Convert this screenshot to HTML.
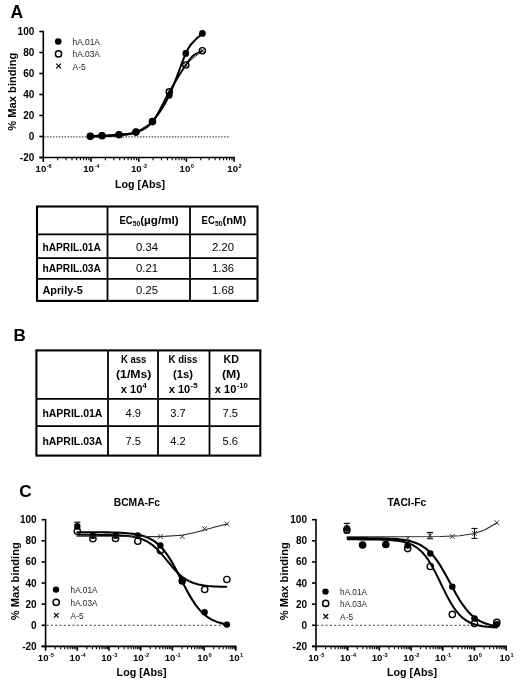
<!DOCTYPE html>
<html lang="en"><head><meta charset="utf-8"><title>Figure</title>
<style>html,body{margin:0;padding:0;background:#fff}svg{display:block;will-change:transform}text{font-family:'Liberation Sans', Arial, sans-serif}</style></head><body>
<svg width="520" height="684" viewBox="0 0 520 684" font-family='"Liberation Sans", Arial, sans-serif'>
<rect width="520" height="684" fill="#fff"/>
<text x="10.60" y="17.90" font-size="17.5" font-weight="bold" text-anchor="start" fill="#000" >A</text>
<text x="13.40" y="340.60" font-size="17" font-weight="bold" text-anchor="start" fill="#000" >B</text>
<text x="19.20" y="497.40" font-size="17.2" font-weight="bold" text-anchor="start" fill="#000" >C</text>
<line x1="43.30" y1="30.80" x2="43.30" y2="158.20" stroke="#000" stroke-width="1.6" />
<line x1="39.30" y1="157.50" x2="234.80" y2="157.50" stroke="#000" stroke-width="1.6" />
<line x1="39.30" y1="31.50" x2="43.30" y2="31.50" stroke="#000" stroke-width="1.6" />
<text x="34.30" y="35.05" font-size="10" font-weight="bold" text-anchor="end" fill="#000" >100</text>
<line x1="39.30" y1="52.50" x2="43.30" y2="52.50" stroke="#000" stroke-width="1.6" />
<text x="34.30" y="56.05" font-size="10" font-weight="bold" text-anchor="end" fill="#000" >80</text>
<line x1="39.30" y1="73.50" x2="43.30" y2="73.50" stroke="#000" stroke-width="1.6" />
<text x="34.30" y="77.05" font-size="10" font-weight="bold" text-anchor="end" fill="#000" >60</text>
<line x1="39.30" y1="94.50" x2="43.30" y2="94.50" stroke="#000" stroke-width="1.6" />
<text x="34.30" y="98.05" font-size="10" font-weight="bold" text-anchor="end" fill="#000" >40</text>
<line x1="39.30" y1="115.50" x2="43.30" y2="115.50" stroke="#000" stroke-width="1.6" />
<text x="34.30" y="119.05" font-size="10" font-weight="bold" text-anchor="end" fill="#000" >20</text>
<line x1="39.30" y1="136.50" x2="43.30" y2="136.50" stroke="#000" stroke-width="1.6" />
<text x="34.30" y="140.05" font-size="10" font-weight="bold" text-anchor="end" fill="#000" >0</text>
<line x1="39.30" y1="157.50" x2="43.30" y2="157.50" stroke="#000" stroke-width="1.6" />
<text x="34.30" y="161.05" font-size="10" font-weight="bold" text-anchor="end" fill="#000" >-20</text>
<line x1="43.30" y1="157.50" x2="43.30" y2="161.80" stroke="#000" stroke-width="1.6" />
<text x="35.55" y="171.80" font-size="9.6" font-weight="bold">10</text>
<text x="46.65" y="167.90" font-size="5.6" font-weight="bold">-6</text>
<line x1="57.66" y1="157.50" x2="57.66" y2="160.30" stroke="#000" stroke-width="1.1" />
<line x1="66.06" y1="157.50" x2="66.06" y2="160.30" stroke="#000" stroke-width="1.1" />
<line x1="72.02" y1="157.50" x2="72.02" y2="160.30" stroke="#000" stroke-width="1.1" />
<line x1="76.64" y1="157.50" x2="76.64" y2="160.30" stroke="#000" stroke-width="1.1" />
<line x1="80.42" y1="157.50" x2="80.42" y2="160.30" stroke="#000" stroke-width="1.1" />
<line x1="83.61" y1="157.50" x2="83.61" y2="160.30" stroke="#000" stroke-width="1.1" />
<line x1="86.38" y1="157.50" x2="86.38" y2="160.30" stroke="#000" stroke-width="1.1" />
<line x1="88.82" y1="157.50" x2="88.82" y2="160.30" stroke="#000" stroke-width="1.1" />
<line x1="91.00" y1="157.50" x2="91.00" y2="161.80" stroke="#000" stroke-width="1.6" />
<text x="83.25" y="171.80" font-size="9.6" font-weight="bold">10</text>
<text x="94.35" y="167.90" font-size="5.6" font-weight="bold">-4</text>
<line x1="105.36" y1="157.50" x2="105.36" y2="160.30" stroke="#000" stroke-width="1.1" />
<line x1="113.76" y1="157.50" x2="113.76" y2="160.30" stroke="#000" stroke-width="1.1" />
<line x1="119.72" y1="157.50" x2="119.72" y2="160.30" stroke="#000" stroke-width="1.1" />
<line x1="124.34" y1="157.50" x2="124.34" y2="160.30" stroke="#000" stroke-width="1.1" />
<line x1="128.12" y1="157.50" x2="128.12" y2="160.30" stroke="#000" stroke-width="1.1" />
<line x1="131.31" y1="157.50" x2="131.31" y2="160.30" stroke="#000" stroke-width="1.1" />
<line x1="134.08" y1="157.50" x2="134.08" y2="160.30" stroke="#000" stroke-width="1.1" />
<line x1="136.52" y1="157.50" x2="136.52" y2="160.30" stroke="#000" stroke-width="1.1" />
<line x1="138.70" y1="157.50" x2="138.70" y2="161.80" stroke="#000" stroke-width="1.6" />
<text x="130.95" y="171.80" font-size="9.6" font-weight="bold">10</text>
<text x="142.05" y="167.90" font-size="5.6" font-weight="bold">-2</text>
<line x1="153.06" y1="157.50" x2="153.06" y2="160.30" stroke="#000" stroke-width="1.1" />
<line x1="161.46" y1="157.50" x2="161.46" y2="160.30" stroke="#000" stroke-width="1.1" />
<line x1="167.42" y1="157.50" x2="167.42" y2="160.30" stroke="#000" stroke-width="1.1" />
<line x1="172.04" y1="157.50" x2="172.04" y2="160.30" stroke="#000" stroke-width="1.1" />
<line x1="175.82" y1="157.50" x2="175.82" y2="160.30" stroke="#000" stroke-width="1.1" />
<line x1="179.01" y1="157.50" x2="179.01" y2="160.30" stroke="#000" stroke-width="1.1" />
<line x1="181.78" y1="157.50" x2="181.78" y2="160.30" stroke="#000" stroke-width="1.1" />
<line x1="184.22" y1="157.50" x2="184.22" y2="160.30" stroke="#000" stroke-width="1.1" />
<line x1="186.40" y1="157.50" x2="186.40" y2="161.80" stroke="#000" stroke-width="1.6" />
<text x="179.60" y="171.80" font-size="9.6" font-weight="bold">10</text>
<text x="190.70" y="167.90" font-size="5.6" font-weight="bold">0</text>
<line x1="200.76" y1="157.50" x2="200.76" y2="160.30" stroke="#000" stroke-width="1.1" />
<line x1="209.16" y1="157.50" x2="209.16" y2="160.30" stroke="#000" stroke-width="1.1" />
<line x1="215.12" y1="157.50" x2="215.12" y2="160.30" stroke="#000" stroke-width="1.1" />
<line x1="219.74" y1="157.50" x2="219.74" y2="160.30" stroke="#000" stroke-width="1.1" />
<line x1="223.52" y1="157.50" x2="223.52" y2="160.30" stroke="#000" stroke-width="1.1" />
<line x1="226.71" y1="157.50" x2="226.71" y2="160.30" stroke="#000" stroke-width="1.1" />
<line x1="229.48" y1="157.50" x2="229.48" y2="160.30" stroke="#000" stroke-width="1.1" />
<line x1="231.92" y1="157.50" x2="231.92" y2="160.30" stroke="#000" stroke-width="1.1" />
<line x1="234.10" y1="157.50" x2="234.10" y2="161.80" stroke="#000" stroke-width="1.6" />
<text x="227.30" y="171.80" font-size="9.6" font-weight="bold">10</text>
<text x="238.40" y="167.90" font-size="5.6" font-weight="bold">2</text>
<line x1="44.30" y1="136.85" x2="229.80" y2="136.85" stroke="#444" stroke-width="1.4" stroke-dasharray="1.4 1.5"/>
<text transform="translate(16.4,91.7) rotate(-90)" font-size="10.9" font-weight="bold" text-anchor="middle" textLength="78" lengthAdjust="spacingAndGlyphs">% Max binding</text>
<text x="140.00" y="187.60" font-size="10.7" font-weight="bold" text-anchor="middle" fill="#000" textLength="50.00" lengthAdjust="spacingAndGlyphs" >Log [Abs]</text>
<circle cx="90.30" cy="136.00" r="3.35" fill="#000"/>
<circle cx="102.00" cy="135.60" r="3.35" fill="#000"/>
<circle cx="119.00" cy="134.60" r="3.35" fill="#000"/>
<circle cx="136.00" cy="131.90" r="3.35" fill="#000"/>
<circle cx="152.50" cy="121.30" r="3.35" fill="#000"/>
<circle cx="169.30" cy="95.30" r="3.35" fill="#000"/>
<circle cx="185.80" cy="53.40" r="3.35" fill="#000"/>
<circle cx="202.40" cy="33.40" r="3.35" fill="#000"/>
<path d="M90.30,136.00 C92.25,135.93 97.22,135.83 102.00,135.60 C106.78,135.37 113.33,135.22 119.00,134.60 C124.67,133.98 130.42,134.12 136.00,131.90 C141.58,129.68 146.95,127.40 152.50,121.30 C158.05,115.20 163.75,106.62 169.30,95.30 C174.85,83.98 181.75,62.35 185.80,53.40 C189.85,44.45 190.83,44.93 193.60,41.60 C196.37,38.27 200.93,34.77 202.40,33.40" fill="none" stroke="#000" stroke-width="2.0" stroke-linecap="round"/>
<circle cx="90.30" cy="136.20" r="3.1" fill="none" stroke="#000" stroke-width="1.4"/>
<circle cx="102.00" cy="135.80" r="3.1" fill="none" stroke="#000" stroke-width="1.4"/>
<circle cx="119.00" cy="134.80" r="3.1" fill="none" stroke="#000" stroke-width="1.4"/>
<circle cx="136.00" cy="132.10" r="3.1" fill="none" stroke="#000" stroke-width="1.4"/>
<circle cx="152.50" cy="121.60" r="3.1" fill="none" stroke="#000" stroke-width="1.4"/>
<circle cx="169.30" cy="91.80" r="3.1" fill="none" stroke="#000" stroke-width="1.4"/>
<circle cx="185.80" cy="65.00" r="3.1" fill="none" stroke="#000" stroke-width="1.4"/>
<circle cx="202.40" cy="50.70" r="3.1" fill="none" stroke="#000" stroke-width="1.4"/>
<path d="M90.30,136.50 C92.25,136.43 97.22,136.33 102.00,136.10 C106.78,135.87 113.33,135.72 119.00,135.10 C124.67,134.48 130.42,134.60 136.00,132.40 C141.58,130.20 146.95,128.67 152.50,121.90 C158.05,115.13 163.75,101.28 169.30,91.80 C174.85,82.32 181.80,71.05 185.80,65.00 C189.80,58.95 190.53,57.88 193.30,55.50 C196.07,53.12 200.88,51.50 202.40,50.70" fill="none" stroke="#000" stroke-width="1.8" stroke-linecap="round"/>
<line x1="167.30" y1="89.80" x2="171.30" y2="93.80" stroke="#000" stroke-width="0.8" />
<line x1="167.30" y1="93.80" x2="171.30" y2="89.80" stroke="#000" stroke-width="0.8" />
<line x1="183.80" y1="63.00" x2="187.80" y2="67.00" stroke="#000" stroke-width="0.8" />
<line x1="183.80" y1="67.00" x2="187.80" y2="63.00" stroke="#000" stroke-width="0.8" />
<line x1="200.40" y1="48.70" x2="204.40" y2="52.70" stroke="#000" stroke-width="0.8" />
<line x1="200.40" y1="52.70" x2="204.40" y2="48.70" stroke="#000" stroke-width="0.8" />
<path d="M90.30,137.10 C92.25,137.03 97.22,136.93 102.00,136.70 C106.78,136.47 113.33,136.32 119.00,135.70 C124.67,135.08 130.42,135.20 136.00,133.00 C141.58,130.80 146.95,129.30 152.50,122.50 C158.05,115.70 163.75,101.72 169.30,92.20 C174.85,82.68 180.28,72.25 185.80,65.40 C191.32,58.55 199.63,53.48 202.40,51.10" fill="none" stroke="#000" stroke-width="0.9" stroke-linecap="round"/>
<circle cx="58.20" cy="41.50" r="3.3" fill="#000"/>
<circle cx="58.50" cy="53.90" r="3.1" fill="none" stroke="#000" stroke-width="1.5"/>
<line x1="56.20" y1="63.60" x2="61.00" y2="68.40" stroke="#000" stroke-width="1.2" />
<line x1="56.20" y1="68.40" x2="61.00" y2="63.60" stroke="#000" stroke-width="1.2" />
<text x="72.50" y="45.10" font-size="9.2" font-weight="normal" text-anchor="start" fill="#222" textLength="27.40" lengthAdjust="spacingAndGlyphs" >hA.01A</text>
<text x="72.50" y="57.20" font-size="9.2" font-weight="normal" text-anchor="start" fill="#222" textLength="27.40" lengthAdjust="spacingAndGlyphs" >hA.03A</text>
<text x="72.50" y="69.60" font-size="9.2" font-weight="normal" text-anchor="start" fill="#222" textLength="13.20" lengthAdjust="spacingAndGlyphs" >A-5</text>
<rect x="37" y="206.5" width="220.5" height="94.4" fill="none" stroke="#000" stroke-width="2.1"/>
<line x1="107.50" y1="206.50" x2="107.50" y2="300.90" stroke="#000" stroke-width="1.8" />
<line x1="190.00" y1="206.50" x2="190.00" y2="300.90" stroke="#000" stroke-width="1.8" />
<line x1="37.00" y1="234.40" x2="257.50" y2="234.40" stroke="#000" stroke-width="1.8" />
<line x1="37.00" y1="258.20" x2="257.50" y2="258.20" stroke="#000" stroke-width="1.8" />
<line x1="37.00" y1="278.90" x2="257.50" y2="278.90" stroke="#000" stroke-width="1.8" />
<text x="42.40" y="250.95" font-size="11.2" font-weight="bold" text-anchor="start" fill="#000" textLength="58.50" lengthAdjust="spacingAndGlyphs" >hAPRIL.01A</text>
<text x="147.00" y="250.80" font-size="10.6" font-weight="normal" text-anchor="middle" fill="#000" textLength="22.00" lengthAdjust="spacingAndGlyphs" >0.34</text>
<text x="223.00" y="250.80" font-size="10.6" font-weight="normal" text-anchor="middle" fill="#000" textLength="22.00" lengthAdjust="spacingAndGlyphs" >2.20</text>
<text x="42.40" y="272.25" font-size="11.2" font-weight="bold" text-anchor="start" fill="#000" textLength="58.50" lengthAdjust="spacingAndGlyphs" >hAPRIL.03A</text>
<text x="147.00" y="272.10" font-size="10.6" font-weight="normal" text-anchor="middle" fill="#000" textLength="22.00" lengthAdjust="spacingAndGlyphs" >0.21</text>
<text x="223.00" y="272.10" font-size="10.6" font-weight="normal" text-anchor="middle" fill="#000" textLength="22.00" lengthAdjust="spacingAndGlyphs" >1.36</text>
<text x="42.40" y="293.75" font-size="11.2" font-weight="bold" text-anchor="start" fill="#000" textLength="40.50" lengthAdjust="spacingAndGlyphs" >Aprily-5</text>
<text x="147.00" y="293.60" font-size="10.6" font-weight="normal" text-anchor="middle" fill="#000" textLength="22.00" lengthAdjust="spacingAndGlyphs" >0.25</text>
<text x="223.00" y="293.60" font-size="10.6" font-weight="normal" text-anchor="middle" fill="#000" textLength="22.00" lengthAdjust="spacingAndGlyphs" >1.68</text>
<text x="119.40" y="224.00" font-size="10.6" font-weight="bold" text-anchor="start" fill="#000" textLength="13.20" lengthAdjust="spacingAndGlyphs" >EC</text>
<text x="132.80" y="226.20" font-size="7.6" font-weight="bold" text-anchor="start" fill="#000" textLength="7.50" lengthAdjust="spacingAndGlyphs" >50</text>
<text x="140.20" y="224.00" font-size="10.6" font-weight="bold" text-anchor="start" fill="#000" textLength="38.50" lengthAdjust="spacingAndGlyphs" >(µg/ml)</text>
<text x="201.60" y="224.00" font-size="10.6" font-weight="bold" text-anchor="start" fill="#000" textLength="13.20" lengthAdjust="spacingAndGlyphs" >EC</text>
<text x="215.00" y="226.20" font-size="7.6" font-weight="bold" text-anchor="start" fill="#000" textLength="7.50" lengthAdjust="spacingAndGlyphs" >50</text>
<text x="222.40" y="224.00" font-size="10.6" font-weight="bold" text-anchor="start" fill="#000" textLength="23.80" lengthAdjust="spacingAndGlyphs" >(nM)</text>
<rect x="36.4" y="350.4" width="223.9" height="105.2" fill="none" stroke="#000" stroke-width="2.1"/>
<line x1="108.00" y1="350.40" x2="108.00" y2="455.60" stroke="#000" stroke-width="1.8" />
<line x1="158.00" y1="350.40" x2="158.00" y2="455.60" stroke="#000" stroke-width="1.8" />
<line x1="209.50" y1="350.40" x2="209.50" y2="455.60" stroke="#000" stroke-width="1.8" />
<line x1="36.40" y1="398.80" x2="260.30" y2="398.80" stroke="#000" stroke-width="1.8" />
<line x1="36.40" y1="426.20" x2="260.30" y2="426.20" stroke="#000" stroke-width="1.8" />
<text x="42.40" y="417.40" font-size="11.2" font-weight="bold" text-anchor="start" fill="#000" textLength="60.00" lengthAdjust="spacingAndGlyphs" >hAPRIL.01A</text>
<text x="42.40" y="445.20" font-size="11.2" font-weight="bold" text-anchor="start" fill="#000" textLength="60.00" lengthAdjust="spacingAndGlyphs" >hAPRIL.03A</text>
<text x="133.20" y="417.40" font-size="10.6" font-weight="normal" text-anchor="middle" fill="#000" textLength="15.40" lengthAdjust="spacingAndGlyphs" >4.9</text>
<text x="133.20" y="444.80" font-size="10.6" font-weight="normal" text-anchor="middle" fill="#000" textLength="15.40" lengthAdjust="spacingAndGlyphs" >7.5</text>
<text x="178.00" y="417.40" font-size="10.6" font-weight="normal" text-anchor="middle" fill="#000" textLength="15.40" lengthAdjust="spacingAndGlyphs" >3.7</text>
<text x="178.00" y="444.80" font-size="10.6" font-weight="normal" text-anchor="middle" fill="#000" textLength="15.40" lengthAdjust="spacingAndGlyphs" >4.2</text>
<text x="230.20" y="417.40" font-size="10.6" font-weight="normal" text-anchor="middle" fill="#000" textLength="15.40" lengthAdjust="spacingAndGlyphs" >7.5</text>
<text x="230.20" y="444.80" font-size="10.6" font-weight="normal" text-anchor="middle" fill="#000" textLength="15.40" lengthAdjust="spacingAndGlyphs" >5.6</text>
<text x="133.70" y="362.60" font-size="10.6" font-weight="bold" text-anchor="middle" fill="#000" textLength="25.50" lengthAdjust="spacingAndGlyphs" >K ass</text>
<text x="133.70" y="377.80" font-size="10.6" font-weight="bold" text-anchor="middle" fill="#000" textLength="35.40" lengthAdjust="spacingAndGlyphs" >(1/Ms)</text>
<text x="120.80" y="392.60" font-size="10.6" font-weight="bold" text-anchor="start" fill="#000" textLength="21.50" lengthAdjust="spacingAndGlyphs" >x 10</text>
<text x="142.60" y="388.40" font-size="7.4" font-weight="bold" text-anchor="start" fill="#000" textLength="4.30" lengthAdjust="spacingAndGlyphs" >4</text>
<text x="183.00" y="362.60" font-size="10.6" font-weight="bold" text-anchor="middle" fill="#000" textLength="28.80" lengthAdjust="spacingAndGlyphs" >K diss</text>
<text x="183.00" y="377.80" font-size="10.6" font-weight="bold" text-anchor="middle" fill="#000" textLength="20.00" lengthAdjust="spacingAndGlyphs" >(1s)</text>
<text x="168.75" y="392.60" font-size="10.6" font-weight="bold" text-anchor="start" fill="#000" textLength="21.50" lengthAdjust="spacingAndGlyphs" >x 10</text>
<text x="190.55" y="388.40" font-size="7.4" font-weight="bold" text-anchor="start" fill="#000" textLength="7.00" lengthAdjust="spacingAndGlyphs" >-5</text>
<text x="231.20" y="362.60" font-size="10.6" font-weight="bold" text-anchor="middle" fill="#000" textLength="15.40" lengthAdjust="spacingAndGlyphs" >KD</text>
<text x="231.20" y="377.80" font-size="10.6" font-weight="bold" text-anchor="middle" fill="#000" textLength="18.40" lengthAdjust="spacingAndGlyphs" >(M)</text>
<text x="214.85" y="392.60" font-size="10.6" font-weight="bold" text-anchor="start" fill="#000" textLength="21.50" lengthAdjust="spacingAndGlyphs" >x 10</text>
<text x="236.65" y="388.40" font-size="7.4" font-weight="bold" text-anchor="start" fill="#000" textLength="11.20" lengthAdjust="spacingAndGlyphs" >-10</text>
<line x1="45.60" y1="519.00" x2="45.60" y2="647.10" stroke="#000" stroke-width="1.6" />
<line x1="41.60" y1="646.40" x2="236.40" y2="646.40" stroke="#000" stroke-width="1.6" />
<line x1="41.60" y1="519.70" x2="45.60" y2="519.70" stroke="#000" stroke-width="1.6" />
<text x="36.60" y="523.25" font-size="10" font-weight="bold" text-anchor="end" fill="#000" >100</text>
<line x1="41.60" y1="540.82" x2="45.60" y2="540.82" stroke="#000" stroke-width="1.6" />
<text x="36.60" y="544.37" font-size="10" font-weight="bold" text-anchor="end" fill="#000" >80</text>
<line x1="41.60" y1="561.93" x2="45.60" y2="561.93" stroke="#000" stroke-width="1.6" />
<text x="36.60" y="565.48" font-size="10" font-weight="bold" text-anchor="end" fill="#000" >60</text>
<line x1="41.60" y1="583.05" x2="45.60" y2="583.05" stroke="#000" stroke-width="1.6" />
<text x="36.60" y="586.60" font-size="10" font-weight="bold" text-anchor="end" fill="#000" >40</text>
<line x1="41.60" y1="604.17" x2="45.60" y2="604.17" stroke="#000" stroke-width="1.6" />
<text x="36.60" y="607.72" font-size="10" font-weight="bold" text-anchor="end" fill="#000" >20</text>
<line x1="41.60" y1="625.28" x2="45.60" y2="625.28" stroke="#000" stroke-width="1.6" />
<text x="36.60" y="628.83" font-size="10" font-weight="bold" text-anchor="end" fill="#000" >0</text>
<line x1="41.60" y1="646.40" x2="45.60" y2="646.40" stroke="#000" stroke-width="1.6" />
<text x="36.60" y="649.95" font-size="10" font-weight="bold" text-anchor="end" fill="#000" >-20</text>
<line x1="45.60" y1="646.40" x2="45.60" y2="650.70" stroke="#000" stroke-width="1.6" />
<text x="37.85" y="660.70" font-size="9.6" font-weight="bold">10</text>
<text x="48.95" y="656.80" font-size="5.6" font-weight="bold">-5</text>
<line x1="55.14" y1="646.40" x2="55.14" y2="649.20" stroke="#000" stroke-width="1.1" />
<line x1="60.72" y1="646.40" x2="60.72" y2="649.20" stroke="#000" stroke-width="1.1" />
<line x1="64.69" y1="646.40" x2="64.69" y2="649.20" stroke="#000" stroke-width="1.1" />
<line x1="67.76" y1="646.40" x2="67.76" y2="649.20" stroke="#000" stroke-width="1.1" />
<line x1="70.27" y1="646.40" x2="70.27" y2="649.20" stroke="#000" stroke-width="1.1" />
<line x1="72.39" y1="646.40" x2="72.39" y2="649.20" stroke="#000" stroke-width="1.1" />
<line x1="74.23" y1="646.40" x2="74.23" y2="649.20" stroke="#000" stroke-width="1.1" />
<line x1="75.85" y1="646.40" x2="75.85" y2="649.20" stroke="#000" stroke-width="1.1" />
<line x1="77.30" y1="646.40" x2="77.30" y2="650.70" stroke="#000" stroke-width="1.6" />
<text x="69.55" y="660.70" font-size="9.6" font-weight="bold">10</text>
<text x="80.65" y="656.80" font-size="5.6" font-weight="bold">-4</text>
<line x1="86.84" y1="646.40" x2="86.84" y2="649.20" stroke="#000" stroke-width="1.1" />
<line x1="92.42" y1="646.40" x2="92.42" y2="649.20" stroke="#000" stroke-width="1.1" />
<line x1="96.39" y1="646.40" x2="96.39" y2="649.20" stroke="#000" stroke-width="1.1" />
<line x1="99.46" y1="646.40" x2="99.46" y2="649.20" stroke="#000" stroke-width="1.1" />
<line x1="101.97" y1="646.40" x2="101.97" y2="649.20" stroke="#000" stroke-width="1.1" />
<line x1="104.09" y1="646.40" x2="104.09" y2="649.20" stroke="#000" stroke-width="1.1" />
<line x1="105.93" y1="646.40" x2="105.93" y2="649.20" stroke="#000" stroke-width="1.1" />
<line x1="107.55" y1="646.40" x2="107.55" y2="649.20" stroke="#000" stroke-width="1.1" />
<line x1="109.00" y1="646.40" x2="109.00" y2="650.70" stroke="#000" stroke-width="1.6" />
<text x="101.25" y="660.70" font-size="9.6" font-weight="bold">10</text>
<text x="112.35" y="656.80" font-size="5.6" font-weight="bold">-3</text>
<line x1="118.54" y1="646.40" x2="118.54" y2="649.20" stroke="#000" stroke-width="1.1" />
<line x1="124.12" y1="646.40" x2="124.12" y2="649.20" stroke="#000" stroke-width="1.1" />
<line x1="128.09" y1="646.40" x2="128.09" y2="649.20" stroke="#000" stroke-width="1.1" />
<line x1="131.16" y1="646.40" x2="131.16" y2="649.20" stroke="#000" stroke-width="1.1" />
<line x1="133.67" y1="646.40" x2="133.67" y2="649.20" stroke="#000" stroke-width="1.1" />
<line x1="135.79" y1="646.40" x2="135.79" y2="649.20" stroke="#000" stroke-width="1.1" />
<line x1="137.63" y1="646.40" x2="137.63" y2="649.20" stroke="#000" stroke-width="1.1" />
<line x1="139.25" y1="646.40" x2="139.25" y2="649.20" stroke="#000" stroke-width="1.1" />
<line x1="140.70" y1="646.40" x2="140.70" y2="650.70" stroke="#000" stroke-width="1.6" />
<text x="132.95" y="660.70" font-size="9.6" font-weight="bold">10</text>
<text x="144.05" y="656.80" font-size="5.6" font-weight="bold">-2</text>
<line x1="150.24" y1="646.40" x2="150.24" y2="649.20" stroke="#000" stroke-width="1.1" />
<line x1="155.82" y1="646.40" x2="155.82" y2="649.20" stroke="#000" stroke-width="1.1" />
<line x1="159.79" y1="646.40" x2="159.79" y2="649.20" stroke="#000" stroke-width="1.1" />
<line x1="162.86" y1="646.40" x2="162.86" y2="649.20" stroke="#000" stroke-width="1.1" />
<line x1="165.37" y1="646.40" x2="165.37" y2="649.20" stroke="#000" stroke-width="1.1" />
<line x1="167.49" y1="646.40" x2="167.49" y2="649.20" stroke="#000" stroke-width="1.1" />
<line x1="169.33" y1="646.40" x2="169.33" y2="649.20" stroke="#000" stroke-width="1.1" />
<line x1="170.95" y1="646.40" x2="170.95" y2="649.20" stroke="#000" stroke-width="1.1" />
<line x1="172.40" y1="646.40" x2="172.40" y2="650.70" stroke="#000" stroke-width="1.6" />
<text x="164.65" y="660.70" font-size="9.6" font-weight="bold">10</text>
<text x="175.75" y="656.80" font-size="5.6" font-weight="bold">-1</text>
<line x1="181.94" y1="646.40" x2="181.94" y2="649.20" stroke="#000" stroke-width="1.1" />
<line x1="187.52" y1="646.40" x2="187.52" y2="649.20" stroke="#000" stroke-width="1.1" />
<line x1="191.49" y1="646.40" x2="191.49" y2="649.20" stroke="#000" stroke-width="1.1" />
<line x1="194.56" y1="646.40" x2="194.56" y2="649.20" stroke="#000" stroke-width="1.1" />
<line x1="197.07" y1="646.40" x2="197.07" y2="649.20" stroke="#000" stroke-width="1.1" />
<line x1="199.19" y1="646.40" x2="199.19" y2="649.20" stroke="#000" stroke-width="1.1" />
<line x1="201.03" y1="646.40" x2="201.03" y2="649.20" stroke="#000" stroke-width="1.1" />
<line x1="202.65" y1="646.40" x2="202.65" y2="649.20" stroke="#000" stroke-width="1.1" />
<line x1="204.10" y1="646.40" x2="204.10" y2="650.70" stroke="#000" stroke-width="1.6" />
<text x="197.30" y="660.70" font-size="9.6" font-weight="bold">10</text>
<text x="208.40" y="656.80" font-size="5.6" font-weight="bold">0</text>
<line x1="213.64" y1="646.40" x2="213.64" y2="649.20" stroke="#000" stroke-width="1.1" />
<line x1="219.22" y1="646.40" x2="219.22" y2="649.20" stroke="#000" stroke-width="1.1" />
<line x1="223.19" y1="646.40" x2="223.19" y2="649.20" stroke="#000" stroke-width="1.1" />
<line x1="226.26" y1="646.40" x2="226.26" y2="649.20" stroke="#000" stroke-width="1.1" />
<line x1="228.77" y1="646.40" x2="228.77" y2="649.20" stroke="#000" stroke-width="1.1" />
<line x1="230.89" y1="646.40" x2="230.89" y2="649.20" stroke="#000" stroke-width="1.1" />
<line x1="232.73" y1="646.40" x2="232.73" y2="649.20" stroke="#000" stroke-width="1.1" />
<line x1="234.35" y1="646.40" x2="234.35" y2="649.20" stroke="#000" stroke-width="1.1" />
<line x1="235.80" y1="646.40" x2="235.80" y2="650.70" stroke="#000" stroke-width="1.6" />
<text x="229.00" y="660.70" font-size="9.6" font-weight="bold">10</text>
<text x="240.10" y="656.80" font-size="5.6" font-weight="bold">1</text>
<line x1="46.60" y1="625.28" x2="230.60" y2="625.28" stroke="#222" stroke-width="0.9" stroke-dasharray="2 2.3"/>
<text transform="translate(18.6,581.2) rotate(-90)" font-size="10.9" font-weight="bold" text-anchor="middle" textLength="78" lengthAdjust="spacingAndGlyphs">% Max binding</text>
<text x="141.60" y="676.30" font-size="10.7" font-weight="bold" text-anchor="middle" fill="#000" textLength="50.00" lengthAdjust="spacingAndGlyphs" >Log [Abs]</text>
<text x="136.90" y="505.50" font-size="10.3" font-weight="bold" text-anchor="middle" fill="#000" textLength="46.30" lengthAdjust="spacingAndGlyphs" >BCMA-Fc</text>
<line x1="77.30" y1="522.20" x2="77.30" y2="529.00" stroke="#000" stroke-width="1.1" />
<line x1="74.20" y1="522.20" x2="80.40" y2="522.20" stroke="#000" stroke-width="1.1" />
<line x1="74.20" y1="529.00" x2="80.40" y2="529.00" stroke="#000" stroke-width="1.1" />
<circle cx="77.30" cy="526.20" r="3.2" fill="#000"/>
<circle cx="92.90" cy="535.80" r="3.2" fill="#000"/>
<circle cx="115.50" cy="535.80" r="3.2" fill="#000"/>
<circle cx="137.80" cy="535.40" r="3.2" fill="#000"/>
<circle cx="160.40" cy="545.50" r="3.2" fill="#000"/>
<circle cx="182.20" cy="581.10" r="3.2" fill="#000"/>
<circle cx="204.60" cy="612.20" r="3.2" fill="#000"/>
<circle cx="226.90" cy="624.60" r="3.2" fill="#000"/>
<path d="M77.30,532.18 L80.40,532.18 L83.51,532.19 L86.61,532.19 L89.72,532.20 L92.82,532.22 L95.92,532.24 L99.03,532.26 L102.13,532.29 L105.24,532.33 L108.34,532.38 L111.44,532.44 L114.55,532.52 L117.65,532.63 L120.76,532.77 L123.86,532.94 L126.96,533.18 L130.07,533.47 L133.17,533.85 L136.28,534.34 L139.38,534.97 L142.48,535.77 L145.59,536.79 L148.69,538.07 L151.80,539.68 L154.90,541.68 L158.00,544.14 L161.11,547.13 L164.21,550.69 L167.31,554.85 L170.42,559.61 L173.52,564.91 L176.63,570.64 L179.73,576.65 L182.83,582.74 L185.94,588.72 L189.04,594.40 L192.15,599.63 L195.25,604.30 L198.35,608.37 L201.46,611.85 L204.56,614.75 L207.67,617.14 L210.77,619.08 L213.87,620.63 L216.98,621.88 L220.08,622.86 L223.19,623.63 L226.29,624.23" fill="none" stroke="#000" stroke-width="2.1" stroke-linejoin="round" stroke-linecap="round"/>
<circle cx="77.30" cy="531.30" r="3.15" fill="none" stroke="#000" stroke-width="1.35"/>
<circle cx="92.90" cy="538.70" r="3.15" fill="none" stroke="#000" stroke-width="1.35"/>
<circle cx="115.50" cy="538.50" r="3.15" fill="none" stroke="#000" stroke-width="1.35"/>
<circle cx="137.80" cy="541.30" r="3.15" fill="none" stroke="#000" stroke-width="1.35"/>
<circle cx="160.40" cy="550.60" r="3.15" fill="none" stroke="#000" stroke-width="1.35"/>
<circle cx="182.20" cy="581.00" r="3.15" fill="none" stroke="#000" stroke-width="1.35"/>
<circle cx="204.70" cy="589.40" r="3.15" fill="none" stroke="#000" stroke-width="1.35"/>
<circle cx="226.90" cy="579.50" r="3.15" fill="none" stroke="#000" stroke-width="1.35"/>
<path d="M77.30,534.81 L80.40,534.81 L83.51,534.82 L86.61,534.82 L89.72,534.83 L92.82,534.84 L95.92,534.86 L99.03,534.88 L102.13,534.91 L105.24,534.95 L108.34,535.00 L111.44,535.06 L114.55,535.15 L117.65,535.27 L120.76,535.43 L123.86,535.65 L126.96,535.93 L130.07,536.30 L133.17,536.80 L136.28,537.44 L139.38,538.28 L142.48,539.37 L145.59,540.74 L148.69,542.47 L151.80,544.59 L154.90,547.14 L158.00,550.12 L161.11,553.47 L164.21,557.11 L167.31,560.91 L170.42,564.72 L173.52,568.36 L176.63,571.72 L179.73,574.69 L182.83,577.25 L185.94,579.37 L189.04,581.10 L192.15,582.48 L195.25,583.57 L198.35,584.41 L201.46,585.06 L204.56,585.55 L207.67,585.93 L210.77,586.21 L213.87,586.43 L216.98,586.59 L220.08,586.71 L223.19,586.80 L226.29,586.86" fill="none" stroke="#000" stroke-width="2.0" stroke-linejoin="round" stroke-linecap="round"/>
<line x1="158.00" y1="534.10" x2="162.80" y2="538.90" stroke="#222" stroke-width="0.9" />
<line x1="158.00" y1="538.90" x2="162.80" y2="534.10" stroke="#222" stroke-width="0.9" />
<line x1="179.80" y1="534.10" x2="184.60" y2="538.90" stroke="#222" stroke-width="0.9" />
<line x1="179.80" y1="538.90" x2="184.60" y2="534.10" stroke="#222" stroke-width="0.9" />
<line x1="202.20" y1="526.30" x2="207.00" y2="531.10" stroke="#222" stroke-width="0.9" />
<line x1="202.20" y1="531.10" x2="207.00" y2="526.30" stroke="#222" stroke-width="0.9" />
<line x1="224.50" y1="521.60" x2="229.30" y2="526.40" stroke="#222" stroke-width="0.9" />
<line x1="224.50" y1="526.40" x2="229.30" y2="521.60" stroke="#222" stroke-width="0.9" />
<path d="M77.00,536.30 L110.00,536.30 L140.00,536.50 L160.00,536.60 L182.00,535.30 L195.00,532.50 L205.00,529.80 L216.00,526.80 L227.00,524.00" fill="none" stroke="#2a2a2a" stroke-width="1.1" stroke-linejoin="round" stroke-linecap="round"/>
<circle cx="56.00" cy="589.60" r="3.2" fill="#000"/>
<circle cx="56.20" cy="602.30" r="3.1" fill="none" stroke="#000" stroke-width="1.5"/>
<line x1="53.90" y1="612.80" x2="58.70" y2="617.60" stroke="#000" stroke-width="1.2" />
<line x1="53.90" y1="617.60" x2="58.70" y2="612.80" stroke="#000" stroke-width="1.2" />
<text x="70.60" y="593.00" font-size="9.2" font-weight="normal" text-anchor="start" fill="#222" textLength="26.80" lengthAdjust="spacingAndGlyphs" >hA.01A</text>
<text x="70.60" y="605.60" font-size="9.2" font-weight="normal" text-anchor="start" fill="#222" textLength="26.80" lengthAdjust="spacingAndGlyphs" >hA.03A</text>
<text x="70.60" y="618.50" font-size="9.2" font-weight="normal" text-anchor="start" fill="#222" textLength="13.00" lengthAdjust="spacingAndGlyphs" >A-5</text>
<line x1="316.00" y1="519.00" x2="316.00" y2="647.10" stroke="#000" stroke-width="1.6" />
<line x1="312.00" y1="646.40" x2="506.80" y2="646.40" stroke="#000" stroke-width="1.6" />
<line x1="312.00" y1="519.70" x2="316.00" y2="519.70" stroke="#000" stroke-width="1.6" />
<text x="307.00" y="523.25" font-size="10" font-weight="bold" text-anchor="end" fill="#000" >100</text>
<line x1="312.00" y1="540.82" x2="316.00" y2="540.82" stroke="#000" stroke-width="1.6" />
<text x="307.00" y="544.37" font-size="10" font-weight="bold" text-anchor="end" fill="#000" >80</text>
<line x1="312.00" y1="561.93" x2="316.00" y2="561.93" stroke="#000" stroke-width="1.6" />
<text x="307.00" y="565.48" font-size="10" font-weight="bold" text-anchor="end" fill="#000" >60</text>
<line x1="312.00" y1="583.05" x2="316.00" y2="583.05" stroke="#000" stroke-width="1.6" />
<text x="307.00" y="586.60" font-size="10" font-weight="bold" text-anchor="end" fill="#000" >40</text>
<line x1="312.00" y1="604.17" x2="316.00" y2="604.17" stroke="#000" stroke-width="1.6" />
<text x="307.00" y="607.72" font-size="10" font-weight="bold" text-anchor="end" fill="#000" >20</text>
<line x1="312.00" y1="625.28" x2="316.00" y2="625.28" stroke="#000" stroke-width="1.6" />
<text x="307.00" y="628.83" font-size="10" font-weight="bold" text-anchor="end" fill="#000" >0</text>
<line x1="312.00" y1="646.40" x2="316.00" y2="646.40" stroke="#000" stroke-width="1.6" />
<text x="307.00" y="649.95" font-size="10" font-weight="bold" text-anchor="end" fill="#000" >-20</text>
<line x1="316.00" y1="646.40" x2="316.00" y2="650.70" stroke="#000" stroke-width="1.6" />
<text x="308.25" y="660.70" font-size="9.6" font-weight="bold">10</text>
<text x="319.35" y="656.80" font-size="5.6" font-weight="bold">-5</text>
<line x1="325.54" y1="646.40" x2="325.54" y2="649.20" stroke="#000" stroke-width="1.1" />
<line x1="331.12" y1="646.40" x2="331.12" y2="649.20" stroke="#000" stroke-width="1.1" />
<line x1="335.09" y1="646.40" x2="335.09" y2="649.20" stroke="#000" stroke-width="1.1" />
<line x1="338.16" y1="646.40" x2="338.16" y2="649.20" stroke="#000" stroke-width="1.1" />
<line x1="340.67" y1="646.40" x2="340.67" y2="649.20" stroke="#000" stroke-width="1.1" />
<line x1="342.79" y1="646.40" x2="342.79" y2="649.20" stroke="#000" stroke-width="1.1" />
<line x1="344.63" y1="646.40" x2="344.63" y2="649.20" stroke="#000" stroke-width="1.1" />
<line x1="346.25" y1="646.40" x2="346.25" y2="649.20" stroke="#000" stroke-width="1.1" />
<line x1="347.70" y1="646.40" x2="347.70" y2="650.70" stroke="#000" stroke-width="1.6" />
<text x="339.95" y="660.70" font-size="9.6" font-weight="bold">10</text>
<text x="351.05" y="656.80" font-size="5.6" font-weight="bold">-4</text>
<line x1="357.24" y1="646.40" x2="357.24" y2="649.20" stroke="#000" stroke-width="1.1" />
<line x1="362.82" y1="646.40" x2="362.82" y2="649.20" stroke="#000" stroke-width="1.1" />
<line x1="366.79" y1="646.40" x2="366.79" y2="649.20" stroke="#000" stroke-width="1.1" />
<line x1="369.86" y1="646.40" x2="369.86" y2="649.20" stroke="#000" stroke-width="1.1" />
<line x1="372.37" y1="646.40" x2="372.37" y2="649.20" stroke="#000" stroke-width="1.1" />
<line x1="374.49" y1="646.40" x2="374.49" y2="649.20" stroke="#000" stroke-width="1.1" />
<line x1="376.33" y1="646.40" x2="376.33" y2="649.20" stroke="#000" stroke-width="1.1" />
<line x1="377.95" y1="646.40" x2="377.95" y2="649.20" stroke="#000" stroke-width="1.1" />
<line x1="379.40" y1="646.40" x2="379.40" y2="650.70" stroke="#000" stroke-width="1.6" />
<text x="371.65" y="660.70" font-size="9.6" font-weight="bold">10</text>
<text x="382.75" y="656.80" font-size="5.6" font-weight="bold">-3</text>
<line x1="388.94" y1="646.40" x2="388.94" y2="649.20" stroke="#000" stroke-width="1.1" />
<line x1="394.52" y1="646.40" x2="394.52" y2="649.20" stroke="#000" stroke-width="1.1" />
<line x1="398.49" y1="646.40" x2="398.49" y2="649.20" stroke="#000" stroke-width="1.1" />
<line x1="401.56" y1="646.40" x2="401.56" y2="649.20" stroke="#000" stroke-width="1.1" />
<line x1="404.07" y1="646.40" x2="404.07" y2="649.20" stroke="#000" stroke-width="1.1" />
<line x1="406.19" y1="646.40" x2="406.19" y2="649.20" stroke="#000" stroke-width="1.1" />
<line x1="408.03" y1="646.40" x2="408.03" y2="649.20" stroke="#000" stroke-width="1.1" />
<line x1="409.65" y1="646.40" x2="409.65" y2="649.20" stroke="#000" stroke-width="1.1" />
<line x1="411.10" y1="646.40" x2="411.10" y2="650.70" stroke="#000" stroke-width="1.6" />
<text x="403.35" y="660.70" font-size="9.6" font-weight="bold">10</text>
<text x="414.45" y="656.80" font-size="5.6" font-weight="bold">-2</text>
<line x1="420.64" y1="646.40" x2="420.64" y2="649.20" stroke="#000" stroke-width="1.1" />
<line x1="426.22" y1="646.40" x2="426.22" y2="649.20" stroke="#000" stroke-width="1.1" />
<line x1="430.19" y1="646.40" x2="430.19" y2="649.20" stroke="#000" stroke-width="1.1" />
<line x1="433.26" y1="646.40" x2="433.26" y2="649.20" stroke="#000" stroke-width="1.1" />
<line x1="435.77" y1="646.40" x2="435.77" y2="649.20" stroke="#000" stroke-width="1.1" />
<line x1="437.89" y1="646.40" x2="437.89" y2="649.20" stroke="#000" stroke-width="1.1" />
<line x1="439.73" y1="646.40" x2="439.73" y2="649.20" stroke="#000" stroke-width="1.1" />
<line x1="441.35" y1="646.40" x2="441.35" y2="649.20" stroke="#000" stroke-width="1.1" />
<line x1="442.80" y1="646.40" x2="442.80" y2="650.70" stroke="#000" stroke-width="1.6" />
<text x="435.05" y="660.70" font-size="9.6" font-weight="bold">10</text>
<text x="446.15" y="656.80" font-size="5.6" font-weight="bold">-1</text>
<line x1="452.34" y1="646.40" x2="452.34" y2="649.20" stroke="#000" stroke-width="1.1" />
<line x1="457.92" y1="646.40" x2="457.92" y2="649.20" stroke="#000" stroke-width="1.1" />
<line x1="461.89" y1="646.40" x2="461.89" y2="649.20" stroke="#000" stroke-width="1.1" />
<line x1="464.96" y1="646.40" x2="464.96" y2="649.20" stroke="#000" stroke-width="1.1" />
<line x1="467.47" y1="646.40" x2="467.47" y2="649.20" stroke="#000" stroke-width="1.1" />
<line x1="469.59" y1="646.40" x2="469.59" y2="649.20" stroke="#000" stroke-width="1.1" />
<line x1="471.43" y1="646.40" x2="471.43" y2="649.20" stroke="#000" stroke-width="1.1" />
<line x1="473.05" y1="646.40" x2="473.05" y2="649.20" stroke="#000" stroke-width="1.1" />
<line x1="474.50" y1="646.40" x2="474.50" y2="650.70" stroke="#000" stroke-width="1.6" />
<text x="467.70" y="660.70" font-size="9.6" font-weight="bold">10</text>
<text x="478.80" y="656.80" font-size="5.6" font-weight="bold">0</text>
<line x1="484.04" y1="646.40" x2="484.04" y2="649.20" stroke="#000" stroke-width="1.1" />
<line x1="489.62" y1="646.40" x2="489.62" y2="649.20" stroke="#000" stroke-width="1.1" />
<line x1="493.59" y1="646.40" x2="493.59" y2="649.20" stroke="#000" stroke-width="1.1" />
<line x1="496.66" y1="646.40" x2="496.66" y2="649.20" stroke="#000" stroke-width="1.1" />
<line x1="499.17" y1="646.40" x2="499.17" y2="649.20" stroke="#000" stroke-width="1.1" />
<line x1="501.29" y1="646.40" x2="501.29" y2="649.20" stroke="#000" stroke-width="1.1" />
<line x1="503.13" y1="646.40" x2="503.13" y2="649.20" stroke="#000" stroke-width="1.1" />
<line x1="504.75" y1="646.40" x2="504.75" y2="649.20" stroke="#000" stroke-width="1.1" />
<line x1="506.20" y1="646.40" x2="506.20" y2="650.70" stroke="#000" stroke-width="1.6" />
<text x="499.40" y="660.70" font-size="9.6" font-weight="bold">10</text>
<text x="510.50" y="656.80" font-size="5.6" font-weight="bold">1</text>
<line x1="317.00" y1="625.28" x2="501.00" y2="625.28" stroke="#222" stroke-width="0.9" stroke-dasharray="2 2.3"/>
<text transform="translate(288.3,581.2) rotate(-90)" font-size="10.9" font-weight="bold" text-anchor="middle" textLength="78" lengthAdjust="spacingAndGlyphs">% Max binding</text>
<text x="412.00" y="676.30" font-size="10.7" font-weight="bold" text-anchor="middle" fill="#000" textLength="50.00" lengthAdjust="spacingAndGlyphs" >Log [Abs]</text>
<text x="406.80" y="505.50" font-size="10.3" font-weight="bold" text-anchor="middle" fill="#000" textLength="38.80" lengthAdjust="spacingAndGlyphs" >TACI-Fc</text>
<line x1="346.90" y1="523.30" x2="346.90" y2="533.00" stroke="#000" stroke-width="1.1" />
<line x1="343.80" y1="523.30" x2="350.00" y2="523.30" stroke="#000" stroke-width="1.1" />
<line x1="343.80" y1="533.00" x2="350.00" y2="533.00" stroke="#000" stroke-width="1.1" />
<circle cx="346.90" cy="528.60" r="3.25" fill="#000"/>
<circle cx="362.60" cy="544.90" r="3.25" fill="#000"/>
<circle cx="385.80" cy="544.40" r="3.25" fill="#000"/>
<circle cx="407.70" cy="545.50" r="3.25" fill="#000"/>
<circle cx="430.30" cy="553.50" r="3.25" fill="#000"/>
<circle cx="452.30" cy="586.80" r="3.25" fill="#000"/>
<circle cx="474.50" cy="618.50" r="3.25" fill="#000"/>
<circle cx="496.80" cy="624.20" r="3.25" fill="#000"/>
<path d="M347.70,538.09 L350.80,538.09 L353.91,538.10 L357.01,538.11 L360.12,538.12 L363.22,538.13 L366.32,538.15 L369.43,538.18 L372.53,538.21 L375.64,538.25 L378.74,538.30 L381.84,538.37 L384.95,538.46 L388.05,538.57 L391.16,538.72 L394.26,538.91 L397.36,539.16 L400.47,539.47 L403.57,539.88 L406.68,540.40 L409.78,541.07 L412.88,541.91 L415.99,542.99 L419.09,544.34 L422.19,546.04 L425.30,548.13 L428.40,550.69 L431.51,553.77 L434.61,557.42 L437.71,561.64 L440.82,566.42 L443.92,571.67 L447.03,577.28 L450.13,583.07 L453.23,588.86 L456.34,594.46 L459.44,599.70 L462.55,604.47 L465.65,608.68 L468.75,612.31 L471.86,615.38 L474.96,617.92 L478.07,620.01 L481.17,621.69 L484.27,623.03 L487.38,624.10 L490.48,624.95 L493.59,625.61 L496.69,626.13" fill="none" stroke="#000" stroke-width="2.1" stroke-linejoin="round" stroke-linecap="round"/>
<circle cx="346.90" cy="529.90" r="3.15" fill="none" stroke="#000" stroke-width="1.35"/>
<circle cx="362.60" cy="545.00" r="3.15" fill="none" stroke="#000" stroke-width="1.35"/>
<circle cx="385.80" cy="544.50" r="3.15" fill="none" stroke="#000" stroke-width="1.35"/>
<circle cx="407.70" cy="548.60" r="3.15" fill="none" stroke="#000" stroke-width="1.35"/>
<circle cx="430.30" cy="566.50" r="3.15" fill="none" stroke="#000" stroke-width="1.35"/>
<circle cx="452.30" cy="614.40" r="3.15" fill="none" stroke="#000" stroke-width="1.35"/>
<circle cx="474.50" cy="623.50" r="3.15" fill="none" stroke="#000" stroke-width="1.35"/>
<circle cx="496.80" cy="622.40" r="3.15" fill="none" stroke="#000" stroke-width="1.35"/>
<path d="M347.70,539.35 L350.80,539.36 L353.91,539.36 L357.01,539.37 L360.12,539.38 L363.22,539.40 L366.32,539.42 L369.43,539.44 L372.53,539.48 L375.64,539.52 L378.74,539.59 L381.84,539.67 L384.95,539.79 L388.05,539.94 L391.16,540.14 L394.26,540.41 L397.36,540.77 L400.47,541.24 L403.57,541.87 L406.68,542.70 L409.78,543.79 L412.88,545.21 L415.99,547.04 L419.09,549.36 L422.19,552.27 L425.30,555.86 L428.40,560.16 L431.51,565.19 L434.61,570.86 L437.71,577.02 L440.82,583.46 L443.92,589.91 L447.03,596.10 L450.13,601.80 L453.23,606.86 L456.34,611.20 L459.44,614.82 L462.55,617.77 L465.65,620.12 L468.75,621.97 L471.86,623.40 L474.96,624.51 L478.07,625.35 L481.17,625.99 L484.27,626.47 L487.38,626.84 L490.48,627.11 L493.59,627.32 L496.69,627.47" fill="none" stroke="#000" stroke-width="2.0" stroke-linejoin="round" stroke-linecap="round"/>
<line x1="430.00" y1="532.40" x2="430.00" y2="538.80" stroke="#000" stroke-width="1.0" />
<line x1="426.90" y1="532.40" x2="433.10" y2="532.40" stroke="#000" stroke-width="1.0" />
<line x1="426.90" y1="538.80" x2="433.10" y2="538.80" stroke="#000" stroke-width="1.0" />
<line x1="474.50" y1="528.40" x2="474.50" y2="538.40" stroke="#000" stroke-width="1.0" />
<line x1="471.40" y1="528.40" x2="477.60" y2="528.40" stroke="#000" stroke-width="1.0" />
<line x1="471.40" y1="538.40" x2="477.60" y2="538.40" stroke="#000" stroke-width="1.0" />
<line x1="344.50" y1="526.20" x2="349.30" y2="531.00" stroke="#222" stroke-width="0.9" />
<line x1="344.50" y1="531.00" x2="349.30" y2="526.20" stroke="#222" stroke-width="0.9" />
<line x1="405.30" y1="535.80" x2="410.10" y2="540.60" stroke="#222" stroke-width="0.9" />
<line x1="405.30" y1="540.60" x2="410.10" y2="535.80" stroke="#222" stroke-width="0.9" />
<line x1="427.60" y1="533.20" x2="432.40" y2="538.00" stroke="#222" stroke-width="0.9" />
<line x1="427.60" y1="538.00" x2="432.40" y2="533.20" stroke="#222" stroke-width="0.9" />
<line x1="449.90" y1="534.10" x2="454.70" y2="538.90" stroke="#222" stroke-width="0.9" />
<line x1="449.90" y1="538.90" x2="454.70" y2="534.10" stroke="#222" stroke-width="0.9" />
<line x1="472.10" y1="531.00" x2="476.90" y2="535.80" stroke="#222" stroke-width="0.9" />
<line x1="472.10" y1="535.80" x2="476.90" y2="531.00" stroke="#222" stroke-width="0.9" />
<line x1="494.40" y1="520.30" x2="499.20" y2="525.10" stroke="#222" stroke-width="0.9" />
<line x1="494.40" y1="525.10" x2="499.20" y2="520.30" stroke="#222" stroke-width="0.9" />
<path d="M347.00,536.80 L400.00,536.80 L440.00,536.50 L460.00,535.80 L474.50,533.50 L485.00,529.80 L497.00,522.70" fill="none" stroke="#2a2a2a" stroke-width="1.1" stroke-linejoin="round" stroke-linecap="round"/>
<circle cx="325.50" cy="591.60" r="3.2" fill="#000"/>
<circle cx="325.70" cy="603.40" r="3.1" fill="none" stroke="#000" stroke-width="1.5"/>
<line x1="323.40" y1="614.00" x2="328.20" y2="618.80" stroke="#000" stroke-width="1.2" />
<line x1="323.40" y1="618.80" x2="328.20" y2="614.00" stroke="#000" stroke-width="1.2" />
<text x="340.10" y="595.00" font-size="9.2" font-weight="normal" text-anchor="start" fill="#222" textLength="26.80" lengthAdjust="spacingAndGlyphs" >hA.01A</text>
<text x="340.10" y="606.70" font-size="9.2" font-weight="normal" text-anchor="start" fill="#222" textLength="26.80" lengthAdjust="spacingAndGlyphs" >hA.03A</text>
<text x="340.10" y="619.70" font-size="9.2" font-weight="normal" text-anchor="start" fill="#222" textLength="13.00" lengthAdjust="spacingAndGlyphs" >A-5</text>
</svg></body></html>
